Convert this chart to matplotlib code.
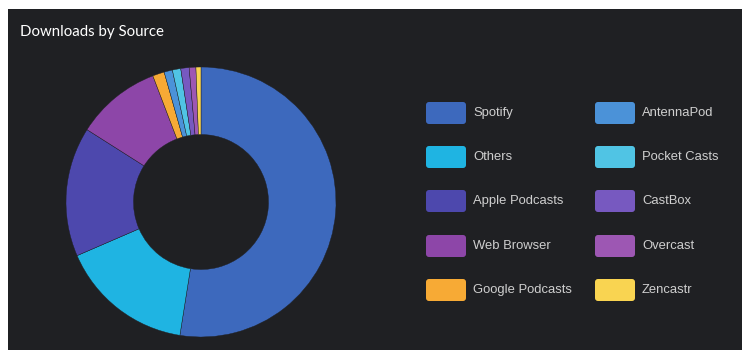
import matplotlib
matplotlib.use('Agg')
import matplotlib.pyplot as plt
from matplotlib.patches import Rectangle, FancyBboxPatch

# data, clockwise from 12 o'clock
sources = ['Spotify', 'Others', 'Apple Podcasts', 'Web Browser', 'Google Podcasts',
           'AntennaPod', 'Pocket Casts', 'CastBox', 'Overcast', 'Zencastr']
shares = [52.5, 16.0, 15.5, 10.2, 1.4, 1.0, 1.0, 1.0, 0.8, 0.6]
colors = ['#3d69bd', '#1fb4e2', '#4d48ad', '#8d46a8', '#f7aa35',
          '#4b92d8', '#50c4e4', '#7759c0', '#9d57b3', '#f9d451']

W, H = 743, 350
bg = '#1f2023'

fig = plt.figure(figsize=(W / 100, H / 100), dpi=100)
fig.patch.set_facecolor('white')
fig.patches.append(Rectangle((8 / W, 0), (742 - 8) / W, (H - 9) / H,
                             transform=fig.transFigure, facecolor=bg,
                             edgecolor='none', zorder=-10))

fig.text(20 / W, 1 - 32 / H, 'Downloads by Source', color='white',
         fontsize=10.8, family='Lato', va='center', ha='left', zorder=5)

# donut
cx, cy, r = 201, 202, 135
ax = fig.add_axes([(cx - r) / W, (H - cy - r) / H, 2 * r / W, 2 * r / H])
ax.pie(shares, colors=colors, startangle=90, counterclock=False,
       wedgeprops=dict(width=0.5, edgecolor=bg, linewidth=0.3))
ax.set_xlim(-1, 1)
ax.set_ylim(-1, 1)
ax.set_aspect('equal')
ax.axis('off')

# legend, filled column by column
lax = fig.add_axes([0, 0, 1, 1])
lax.set_xlim(0, W)
lax.set_ylim(H, 0)
lax.axis('off')
col_x = [426, 595]
row_y = [113, 157, 201, 246, 290]
for i, (name, c) in enumerate(zip(sources, colors)):
    x = col_x[i // 5]
    y = row_y[i % 5]
    lax.add_patch(FancyBboxPatch((x + 3, y - 8), 34, 16,
                                 boxstyle='round,pad=3', facecolor=c,
                                 edgecolor='none'))
    lax.text(x + 47, y, name, color='#cfcfcf', fontsize=9.4,
             family='Liberation Sans', va='center', ha='left')

fig.savefig('out.png', dpi=100, facecolor=fig.get_facecolor())
